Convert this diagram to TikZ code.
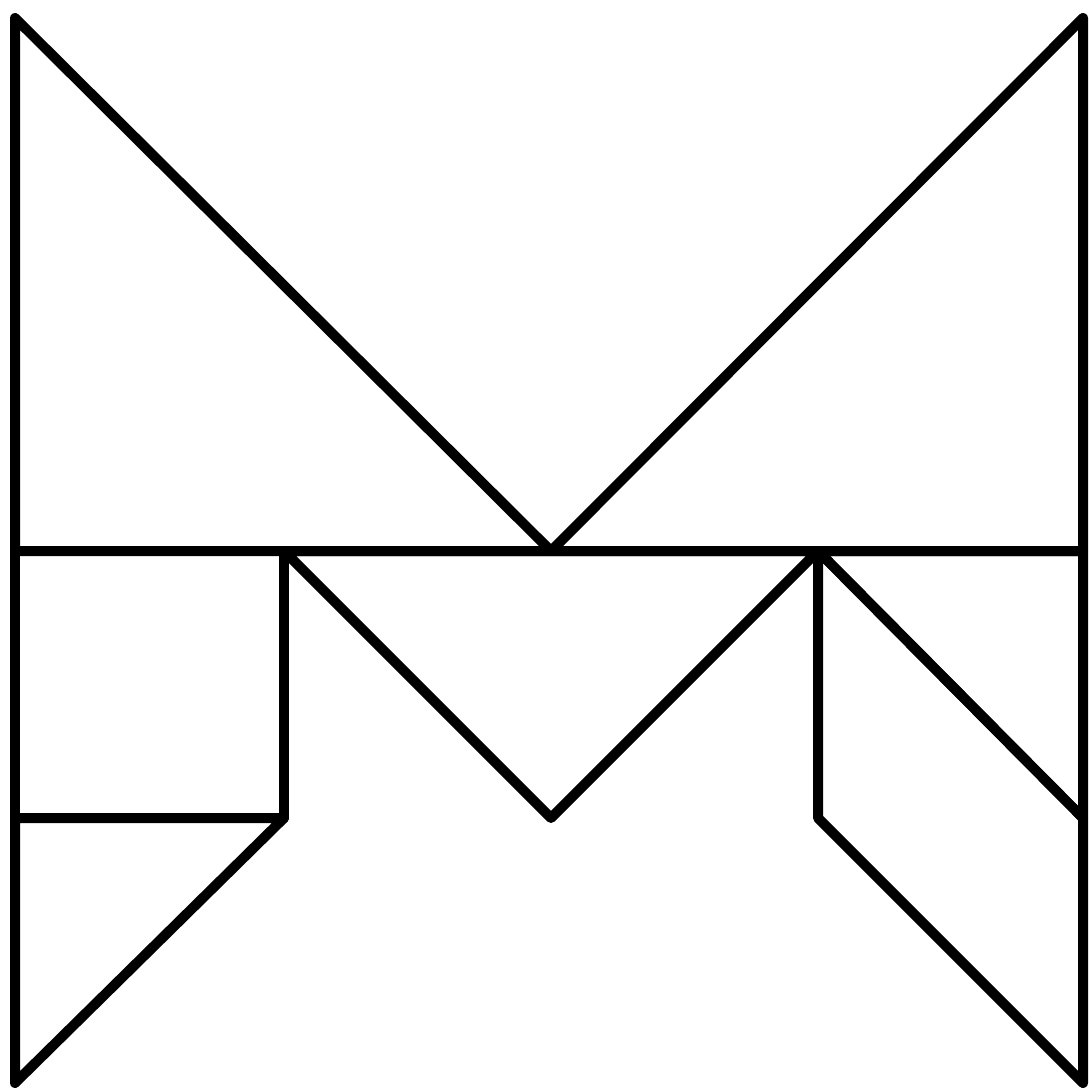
\documentclass[tikz,border=0pt]{standalone}
\begin{document}
\begin{tikzpicture}[x=0.5pt,y=-0.5pt,
  piece/.style={draw=black,line width=5pt,line join=round,line cap=round}]
\useasboundingbox (0,0) rectangle (1088,1090);
\coordinate (TL) at (15,18);
\coordinate (TR) at (1083,18);
\coordinate (ML) at (15,551);
\coordinate (MA) at (284,551);
\coordinate (MC) at (551,551);
\coordinate (MB) at (818,551);
\coordinate (MR) at (1083,551);
\coordinate (LL) at (15,818);
\coordinate (LA) at (284,818);
\coordinate (LC) at (551,818);
\coordinate (LB) at (818,818);
\coordinate (LR) at (1083,818);
\coordinate (BL) at (15,1083);
\coordinate (BR) at (1083,1083);
\draw[piece] (TL) -- (MC) -- (ML) -- cycle;
\draw[piece] (TR) -- (MC) -- (MR) -- cycle;
\draw[piece] (ML) -- (MA) -- (LA) -- (LL) -- cycle;
\draw[piece] (LL) -- (LA) -- (BL) -- cycle;
\draw[piece] (MA) -- (MB) -- (LC) -- cycle;
\draw[piece] (MB) -- (MR) -- (LR) -- cycle;
\draw[piece] (MB) -- (LR) -- (BR) -- (LB) -- cycle;
\end{tikzpicture}
\end{document}
